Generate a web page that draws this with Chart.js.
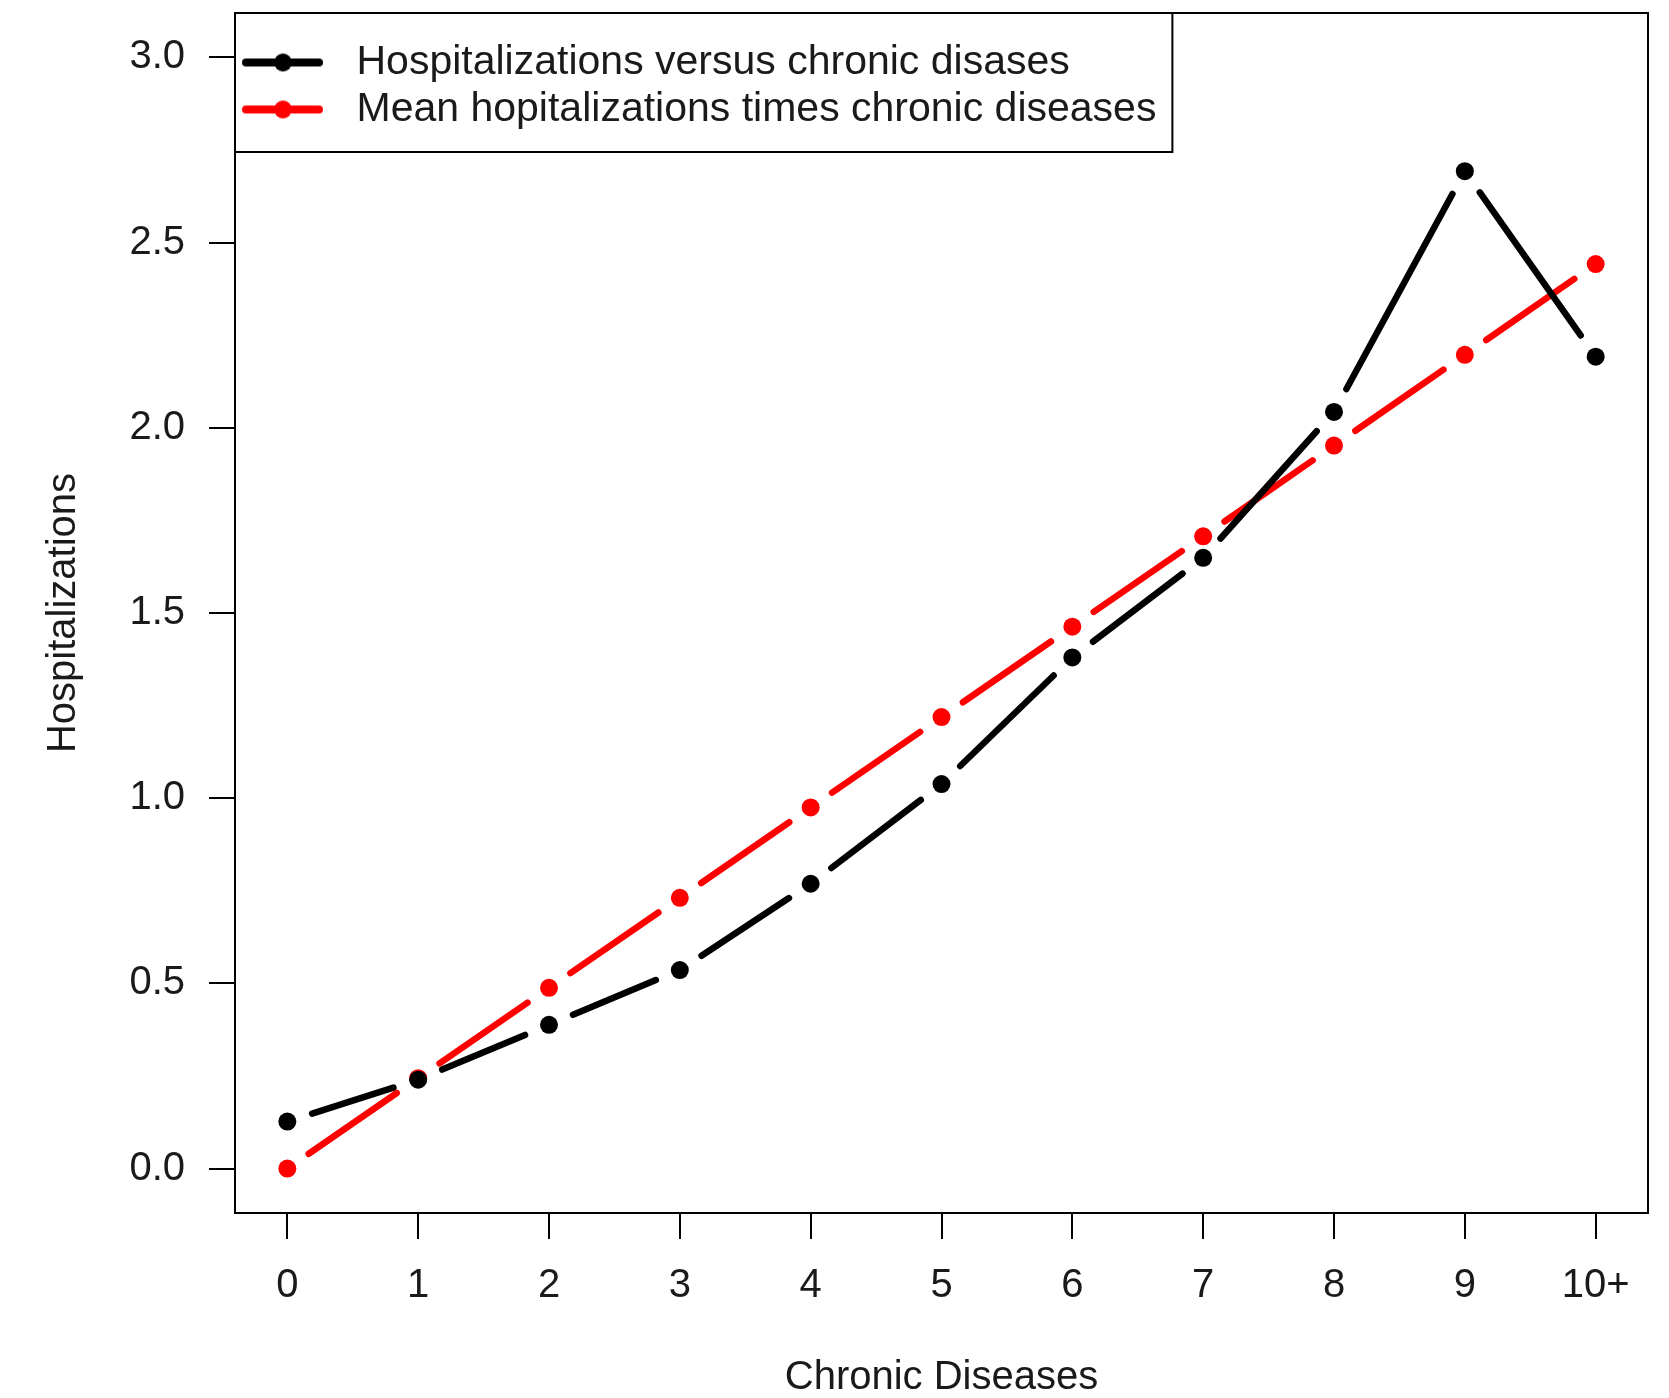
<!DOCTYPE html>
<html>
<head>
<meta charset="utf-8">
<script src="https://cdn.jsdelivr.net/npm/chart.js@4/dist/chart.umd.min.js"></script>
<style>
html,body{margin:0;padding:0;background:#fff;overflow:hidden}
canvas{display:block}
</style>
</head>
<body>
<canvas id="c" width="1669" height="1398" style="width:1669px;height:1398px"></canvas>
<script>
// ---- data ----
const categories = ['0','1','2','3','4','5','6','7','8','9','10+'];
const hospitalizations = [0.127, 0.240, 0.388, 0.536, 0.769, 1.038, 1.380, 1.649, 2.043, 2.693, 2.192];
const meanTimesChronic = [0.000, 0.244, 0.488, 0.731, 0.975, 1.219, 1.463, 1.707, 1.952, 2.197, 2.442];
const yTickValues = [0, 0.5, 1.0, 1.5, 2.0, 2.5, 3.0];
const seriesLabels = ['Hospitalizations versus chronic disases', 'Mean hopitalizations times chronic diseases'];
const seriesColors = ['#000000', '#ff0000'];
const xTitle = 'Chronic Diseases';
const yTitle = 'Hospitalizations';

// ---- style ----
const FONT = "'Liberation Sans', Arial, sans-serif";
const TXT = '#1a1a1a';
const GAP = 26;

function gapDash(ctx) {
  const dx = ctx.p1.x - ctx.p0.x, dy = ctx.p1.y - ctx.p0.y;
  const L = Math.hypot(dx, dy);
  const g = Math.min(GAP, L / 2 - 1);
  return [0, g, Math.max(L - 2 * g, 0), g];
}

function makeSymbol(color) {
  const c = document.createElement('canvas');
  c.width = 95; c.height = 24;
  const g = c.getContext('2d');
  g.strokeStyle = color; g.fillStyle = color;
  g.lineWidth = 8; g.lineCap = 'round';
  g.beginPath(); g.moveTo(5, 12); g.lineTo(78, 12); g.stroke();
  g.beginPath(); g.arc(42, 12, 9, 0, Math.PI * 2); g.fill();
  return c;
}

function mkDataset(i, values) {
  return {
    label: seriesLabels[i],
    data: categories.map((c, k) => ({x: k, y: values[k]})),
    borderColor: seriesColors[i],
    backgroundColor: seriesColors[i],
    pointBackgroundColor: seriesColors[i],
    pointBorderWidth: 0,
    pointRadius: 9,
    pointHoverRadius: 9,
    borderWidth: 6.5,
    borderCapStyle: 'round',
    tension: 0,
    clip: false,
    segment: { borderDash: gapDash }
  };
}

const boxPlugin = {
  id: 'rbox',
  beforeDraw(chart) {
    const lg = chart.legend;
    const ca = chart.chartArea;
    const g = chart.ctx;
    if (lg && lg.legendHitBoxes && lg.legendHitBoxes.length) {
      let r = 0, b = 0;
      lg.legendHitBoxes.forEach(h => { r = Math.max(r, h.left + h.width); b = Math.max(b, h.top + h.height); });
      g.save();
      g.fillStyle = '#fff';
      g.fillRect(ca.left, ca.top, r + 16 - ca.left, b + 22 - ca.top);
      g.strokeStyle = '#000'; g.lineWidth = 2;
      g.strokeRect(ca.left, ca.top, r + 16 - ca.left, b + 22 - ca.top);
      g.restore();
    }
  },
  afterDraw(chart) {
    const ca = chart.chartArea;
    const g = chart.ctx;
    g.save();
    g.strokeStyle = '#000'; g.lineWidth = 2;
    g.strokeRect(ca.left, ca.top, ca.right - ca.left, ca.bottom - ca.top);
    g.restore();
  }
};

new Chart(document.getElementById('c').getContext('2d'), {
  type: 'line',
  data: { datasets: [mkDataset(0, hospitalizations), mkDataset(1, meanTimesChronic)] },
  options: {
    responsive: false,
    animation: false,
    devicePixelRatio: 1,
    events: [],
    layout: { padding: { left: 0, top: 13, right: 21, bottom: 0 } },
    scales: {
      x: {
        type: 'linear', min: -0.4, max: 10.4,
        afterBuildTicks: s => { s.ticks = categories.map((c, k) => ({value: k})); },
        afterFit: s => { s.height = 185; s.paddingLeft = 0; s.paddingRight = 0; },
        ticks: { callback: (v, idx) => categories[idx], autoSkip: false, maxRotation: 0, padding: 23,
                 color: TXT, font: { family: FONT, size: 40, lineHeight: 1.2 } },
        grid: { display: true, drawOnChartArea: false, drawTicks: true, tickLength: 26, color: '#000', lineWidth: 2 },
        border: { display: false },
        title: { display: true, text: xTitle, color: TXT, font: { family: FONT, size: 40, lineHeight: 1 }, padding: { top: 0, bottom: 0 } }
      },
      y: {
        type: 'linear', min: -0.12, max: 3.12,
        afterBuildTicks: s => { s.ticks = yTickValues.map(v => ({value: v})); },
        afterFit: s => { s.width = 235; s.paddingTop = 0; s.paddingBottom = 0; },
        ticks: { callback: v => Number(v).toFixed(1), autoSkip: false, padding: 24,
                 color: TXT, font: { family: FONT, size: 40, lineHeight: 1.2 } },
        grid: { display: true, drawOnChartArea: false, drawTicks: true, tickLength: 26, color: '#000', lineWidth: 2 },
        border: { display: false },
        title: { display: true, text: yTitle, color: TXT, font: { family: FONT, size: 40, lineHeight: 1 }, padding: { top: 44, bottom: 0 } }
      }
    },
    plugins: {
      tooltip: { enabled: false },
      legend: {
        position: 'chartArea',
        align: 'start',
        title: { display: true, text: '', font: { size: 10, lineHeight: 1 }, padding: { top: 26, bottom: 0 } },
        labels: {
          usePointStyle: true,
          pointStyleWidth: 95,
          padding: 6,
          color: TXT,
          font: { family: FONT, size: 41 },
          generateLabels(chart) {
            const items = Chart.defaults.plugins.legend.labels.generateLabels(chart);
            items.forEach((it, k) => { it.pointStyle = makeSymbol(seriesColors[k]); it.fontColor = TXT; });
            return items;
          }
        }
      }
    }
  },
  plugins: [boxPlugin]
});
</script>
</body>
</html>
